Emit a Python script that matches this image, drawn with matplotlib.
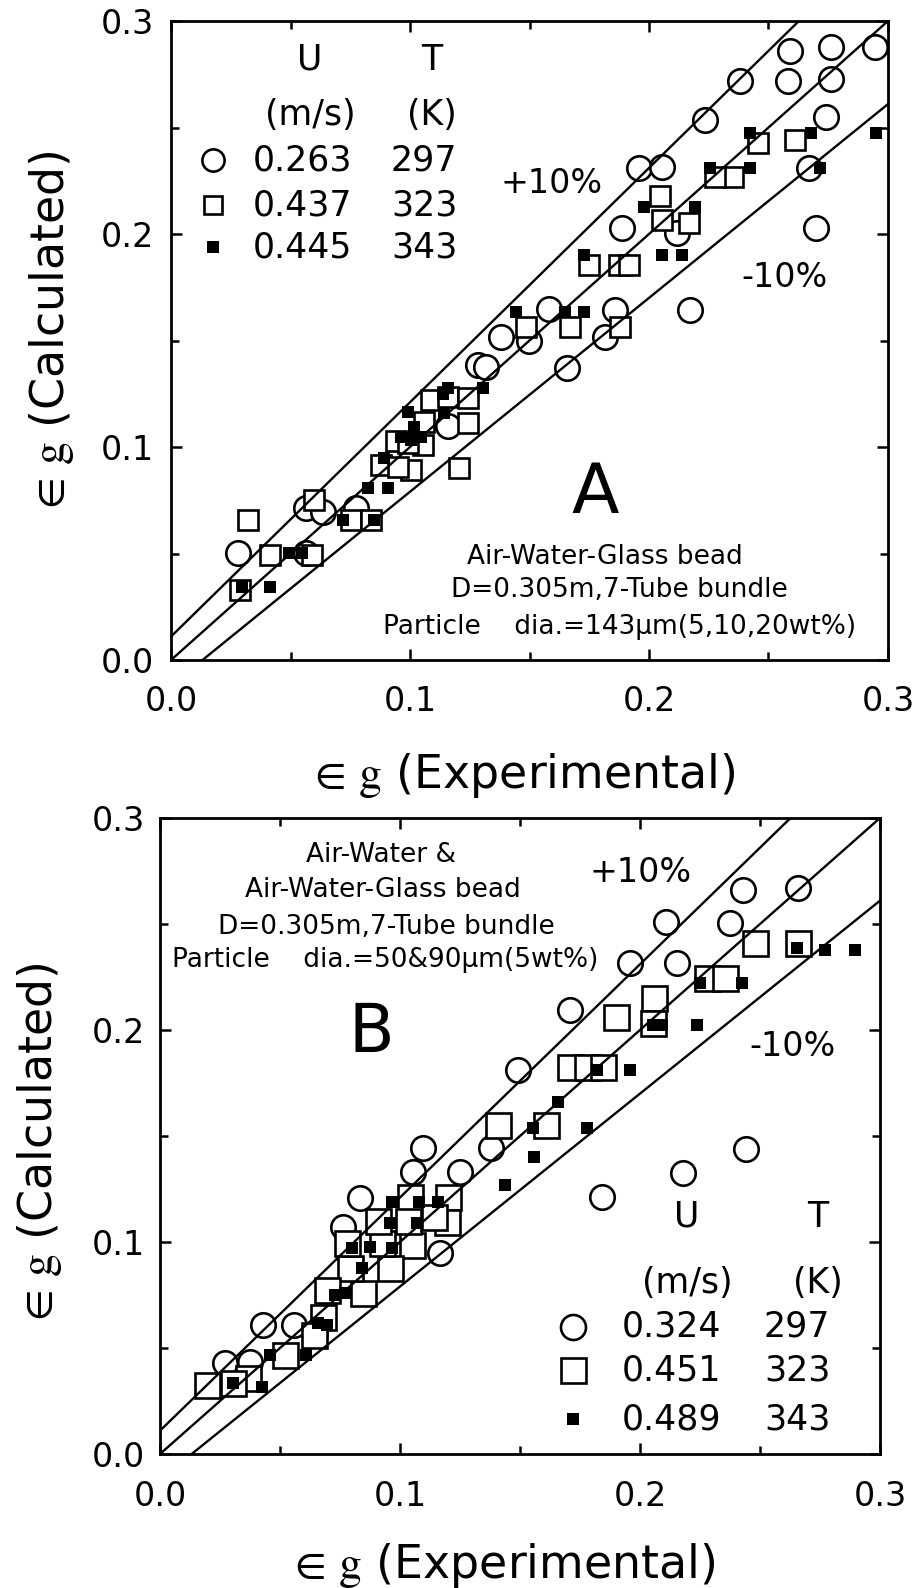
import matplotlib
matplotlib.use('Agg')
import matplotlib.pyplot as plt
from matplotlib.ticker import FixedLocator

plt.rcParams['font.family'] = ['DejaVu Sans']
plt.rcParams['mathtext.fontset'] = 'stix'

# ---------------- data ----------------
tick_vals = [0.0, 0.1, 0.2, 0.3]
tick_labels = ['0.0', '0.1', '0.2', '0.3']
minor_vals = [0.05, 0.15, 0.25]

band_slopes = [1.1, 1.0, 0.91]
band_intercepts = [0.011, 0.0, -0.012]

# Panel A
A_circ_x = [0.259, 0.276, 0.2945, 0.238, 0.258, 0.276, 0.2235, 0.274, 0.196, 0.2055, 0.267,
            0.1887, 0.2118, 0.2698, 0.217, 0.158, 0.1857, 0.1815, 0.1655, 0.138, 0.1496,
            0.1286, 0.1319, 0.116, 0.0282, 0.0563, 0.0634, 0.0773, 0.0563]
A_circ_y = [0.286, 0.288, 0.288, 0.272, 0.272, 0.273, 0.2535, 0.255, 0.231, 0.2315, 0.231,
            0.203, 0.2005, 0.203, 0.1643, 0.165, 0.1643, 0.1516, 0.137, 0.1516, 0.150,
            0.1385, 0.1376, 0.110, 0.0502, 0.0713, 0.0695, 0.0713, 0.0502]

A_sq_x = [0.2454, 0.261, 0.2046, 0.235, 0.2277, 0.2055, 0.2168, 0.1748, 0.1874, 0.1916,
          0.1487, 0.1668, 0.1878, 0.1088, 0.116, 0.1244, 0.1059, 0.1244, 0.1055, 0.0878,
          0.1206, 0.0324, 0.029, 0.0416, 0.0597, 0.0592, 0.0752, 0.0836, 0.094, 0.099,
          0.1004, 0.095]
A_sq_y = [0.2427, 0.244, 0.218, 0.2268, 0.2268, 0.2066, 0.205, 0.1854, 0.1854, 0.1854,
          0.1563, 0.1563, 0.1563, 0.122, 0.1235, 0.123, 0.1117, 0.1113, 0.101, 0.0915,
          0.090, 0.0657, 0.0329, 0.0493, 0.0751, 0.0493, 0.0657, 0.0657, 0.103, 0.1019,
          0.089, 0.0906]

A_fill_x = [0.295, 0.2424, 0.2676, 0.2714, 0.2256, 0.2424, 0.198, 0.2193, 0.2055, 0.214,
            0.1727, 0.1445, 0.1647, 0.173, 0.116, 0.1307, 0.0992, 0.1143, 0.0962, 0.1046,
            0.089, 0.0824, 0.0908, 0.0849, 0.0718, 0.0416, 0.0298, 0.0492, 0.055, 0.1017,
            0.114, 0.1004]
A_fill_y = [0.2474, 0.2474, 0.2474, 0.231, 0.231, 0.231, 0.2127, 0.2127, 0.190, 0.190,
            0.190, 0.1634, 0.1634, 0.1634, 0.1277, 0.1277, 0.1164, 0.116, 0.1047, 0.1047,
            0.0948, 0.0808, 0.0808, 0.0657, 0.0657, 0.0343, 0.0343, 0.0502, 0.0502, 0.1094,
            0.125, 0.1033]

A_U = ['0.263', '0.437', '0.445']
A_T = ['297', '323', '343']
A_notes = ['Air-Water-Glass bead', 'D=0.305m,7-Tube bundle',
           'Particle    dia.=143\u03bcm(5,10,20wt%)']

# Panel B
B_circ_x = [0.243, 0.266, 0.211, 0.2375, 0.196, 0.2154, 0.171, 0.149, 0.184, 0.218, 0.244,
            0.138, 0.1096, 0.125, 0.1054, 0.0833, 0.0763, 0.1167, 0.043, 0.056, 0.0646,
            0.027, 0.0375]
B_circ_y = [0.266, 0.267, 0.251, 0.2505, 0.2316, 0.2316, 0.2094, 0.181, 0.121, 0.1325, 0.144,
            0.1443, 0.1443, 0.133, 0.133, 0.1208, 0.107, 0.0948, 0.0608, 0.0608, 0.057,
            0.0429, 0.0434]

B_sq_x = [0.248, 0.266, 0.228, 0.2354, 0.206, 0.190, 0.2055, 0.171, 0.178, 0.1846, 0.141,
          0.161, 0.12, 0.104, 0.1196, 0.105, 0.096, 0.0846, 0.079, 0.0696, 0.1033, 0.0925,
          0.068, 0.052, 0.0367, 0.0196, 0.0304, 0.078, 0.091, 0.064, 0.114]
B_sq_y = [0.241, 0.241, 0.2245, 0.2245, 0.215, 0.206, 0.2033, 0.1825, 0.1825, 0.1825, 0.155,
          0.155, 0.121, 0.121, 0.1094, 0.0986, 0.0877, 0.076, 0.0877, 0.0774, 0.110, 0.0995,
          0.0646, 0.0467, 0.0358, 0.0325, 0.0335, 0.0995, 0.110, 0.056, 0.112]

B_fill_x = [0.2896, 0.277, 0.2654, 0.2425, 0.225, 0.2237, 0.2054, 0.209, 0.196, 0.182, 0.166,
            0.1554, 0.178, 0.156, 0.1437, 0.116, 0.0967, 0.108, 0.096, 0.107, 0.08, 0.0875,
            0.0967, 0.084, 0.073, 0.077, 0.066, 0.0696, 0.061, 0.046, 0.0425, 0.0304]
B_fill_y = [0.2377, 0.2377, 0.2387, 0.222, 0.222, 0.2024, 0.2024, 0.2024, 0.181, 0.181, 0.166,
            0.154, 0.1538, 0.140, 0.127, 0.119, 0.119, 0.119, 0.109, 0.109, 0.097, 0.0976,
            0.097, 0.0877, 0.075, 0.076, 0.0618, 0.0608, 0.0467, 0.0467, 0.0316, 0.0335]

B_U = ['0.324', '0.451', '0.489']
B_T = ['297', '323', '343']
B_notes = ['Air-Water &', 'Air-Water-Glass bead', 'D=0.305m,7-Tube bundle',
           'Particle    dia.=50&90\u03bcm(5wt%)']

# ---------------- figure ----------------
W, H = 920, 1588
fig = plt.figure(figsize=(W / 100, H / 100), dpi=100)


def px_axes(x0, ytop, x1, ybot):
    return fig.add_axes([x0 / W, 1 - ybot / H, (x1 - x0) / W, (ybot - ytop) / H])


def style(ax, xpad, ypad):
    ax.set_xlim(0, 0.3)
    ax.set_ylim(0, 0.3)
    ax.set_xticks(tick_vals)
    ax.set_xticklabels(tick_labels)
    ax.set_yticks(tick_vals)
    ax.set_yticklabels(tick_labels)
    ax.xaxis.set_minor_locator(FixedLocator(minor_vals))
    ax.yaxis.set_minor_locator(FixedLocator(minor_vals))
    ax.tick_params(which='both', direction='in', top=True, right=True, width=1.8,
                   labelsize=24, colors='black')
    ax.tick_params(which='major', length=8)
    ax.tick_params(which='minor', length=5.5)
    ax.tick_params(axis='x', pad=xpad)
    ax.tick_params(axis='y', pad=ypad)
    for s in ax.spines.values():
        s.set_linewidth(2)


def draw(ax, cx, cy, sx, sy, fx, fy, circ_ms, sq_ms, fill_ms):
    for s, b in zip(band_slopes, band_intercepts):
        ax.axline((0, b), slope=s, color='black', lw=1.7, zorder=5)
    ax.plot(cx, cy, 'o', ms=circ_ms, mfc='white', mec='black', mew=1.9, ls='none', zorder=2)
    ax.plot(sx, sy, 's', ms=sq_ms, mfc='white', mec='black', mew=1.9, ls='none', zorder=3)
    ax.plot(fx, fy, 's', ms=fill_ms, mfc='black', mec='black', mew=0, ls='none', zorder=4)


def legend(ax, us, ts, xm, xu, xt, xhu, xht, yhead, yunit, rows, leg_ms, fs):
    tr = ax.transAxes
    ax.text(xhu, yhead, 'U', transform=tr, ha='center', va='center', fontsize=fs)
    ax.text(xht, yhead, 'T', transform=tr, ha='center', va='center', fontsize=fs)
    ax.text(xhu, yunit, '(m/s)', transform=tr, ha='center', va='center', fontsize=fs)
    ax.text(xht, yunit, '(K)', transform=tr, ha='center', va='center', fontsize=fs)
    styles = [dict(marker='o', ms=leg_ms[0], mfc='white', mec='black', mew=1.9),
              dict(marker='s', ms=leg_ms[1], mfc='white', mec='black', mew=1.9),
              dict(marker='s', ms=leg_ms[2], mfc='black', mec='black', mew=0)]
    for u, t, y, st in zip(us, ts, rows, styles):
        ax.plot([xm], [y], transform=tr, ls='none', clip_on=False, zorder=6, **st)
        ax.text(xu, y, u, transform=tr, ha='center', va='center', fontsize=fs)
        ax.text(xt, y, t, transform=tr, ha='center', va='center', fontsize=fs)


# Panel A
axA = px_axes(171, 21, 888, 660)
style(axA, 18, 12)
draw(axA, A_circ_x, A_circ_y, A_sq_x, A_sq_y, A_fill_x, A_fill_y, 17.6, 14.5, 8.5)
legend(axA, A_U, A_T, 0.0586, 0.183, 0.353, 0.194, 0.364, 0.939, 0.853,
       [0.782, 0.712, 0.646], [16, 13, 8.5], 25)
axA.text(0.531, 0.746, '+10%', transform=axA.transAxes, ha='center', va='center', fontsize=24)
axA.text(0.856, 0.599, '-10%', transform=axA.transAxes, ha='center', va='center', fontsize=24)
axA.text(0.591, 0.261, 'A', transform=axA.transAxes, ha='center', va='center', fontsize=50)
for s, x, y in zip(A_notes, [0.605, 0.626, 0.625], [0.161, 0.110, 0.052]):
    axA.text(x, y, s, transform=axA.transAxes, ha='center', va='center', fontsize=19)

# Panel B
axB = px_axes(160, 818, 880, 1454)
style(axB, 19, 11)
draw(axB, B_circ_x, B_circ_y, B_sq_x, B_sq_y, B_fill_x, B_fill_y, 17.6, 18, 8)
legend(axB, B_U, B_T, 0.574, 0.711, 0.885, 0.732, 0.914, 0.373, 0.269,
       [0.200, 0.132, 0.055], [18, 18, 9], 25)
axB.text(0.667, 0.915, '+10%', transform=axB.transAxes, ha='center', va='center', fontsize=24)
axB.text(0.879, 0.640, '-10%', transform=axB.transAxes, ha='center', va='center', fontsize=24)
axB.text(0.294, 0.662, 'B', transform=axB.transAxes, ha='center', va='center', fontsize=48)
for s, x, y in zip(B_notes, [0.307, 0.310, 0.315, 0.3125], [0.942, 0.887, 0.829, 0.777]):
    axB.text(x, y, s, transform=axB.transAxes, ha='center', va='center', fontsize=19)

# axis labels
lab_y = r'$\in\,\mathrm{g}$ (Calculated)'
lab_x = r'$\in\,\mathrm{g}$ (Experimental)'
fig.text(522 / W, 1 - 775 / H, lab_x, ha='center', va='center', fontsize=33)
fig.text(502 / W, 1 - 1565 / H, lab_x, ha='center', va='center', fontsize=33)
fig.text(52 / W, 1 - 333 / H, lab_y, ha='center', va='center', fontsize=33, rotation=90)
fig.text(40 / W, 1 - 1145 / H, lab_y, ha='center', va='center', fontsize=33, rotation=90)

fig.savefig('out.png', dpi=100, facecolor='white')
